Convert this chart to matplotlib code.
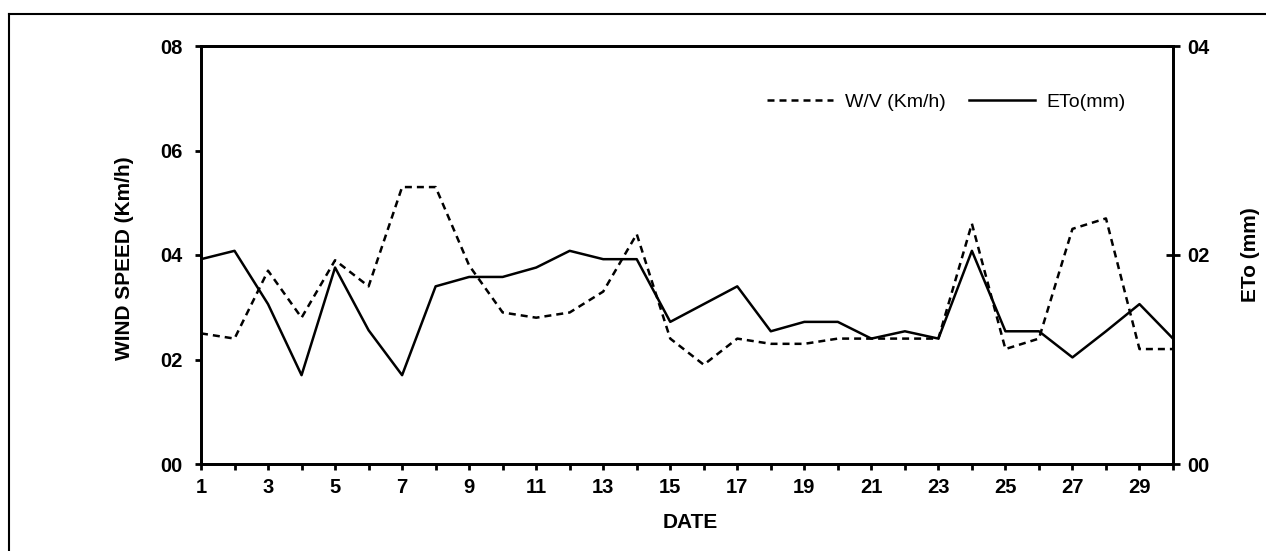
import matplotlib
matplotlib.use("Agg")
import matplotlib.pyplot as plt
from matplotlib.lines import Line2D

plt.rcParams['font.family'] = ['Liberation Sans', 'DejaVu Sans']

days = list(range(1, 31))
wind_speed = [2.5, 2.4, 3.7, 2.8, 3.9, 3.4, 5.3, 5.3, 3.8, 2.9,
              2.8, 2.9, 3.3, 4.4, 2.4, 1.9, 2.4, 2.3, 2.3, 2.4,
              2.4, 2.4, 2.4, 4.6, 2.2, 2.4, 4.5, 4.7, 2.2, 2.2]
eto = [1.96, 2.04, 1.53, 0.85, 1.88, 1.28, 0.85, 1.70, 1.79, 1.79,
       1.88, 2.04, 1.96, 1.96, 1.36, 1.53, 1.70, 1.27, 1.36, 1.36,
       1.20, 1.27, 1.20, 2.04, 1.27, 1.27, 1.02, 1.27, 1.53, 1.20]
left_ticks = [0, 2, 4, 6, 8]
left_ticklabels = ["00", "02", "04", "06", "08"]
right_ticks = [0, 2, 4]
right_ticklabels = ["00", "02", "04"]
x_ticklabels = [str(d) if d % 2 == 1 else "" for d in days]

W, H = 1266, 551
fig = plt.figure(figsize=(W / 100, H / 100), dpi=100)

# outer frame (only top and left edges visible)
fig.add_artist(Line2D([9 / W, 9 / W], [0, 1 - 14 / H], transform=fig.transFigure,
                      color='black', lw=1.5))
fig.add_artist(Line2D([9 / W, 1], [1 - 14 / H, 1 - 14 / H], transform=fig.transFigure,
                      color='black', lw=1.5))

ax = fig.add_axes([201 / W, 1 - 464 / H, (1173 - 201) / W, (464 - 46) / H])
ax2 = ax.twinx()

l1, = ax.plot(days, wind_speed, color='black', lw=1.8, linestyle=(0, (2.8, 2.0)),
              label='W/V (Km/h)')
l2, = ax2.plot(days, eto, color='black', lw=1.8, label='ETo(mm)')

ax.set_xlim(1, 30)
ax.set_ylim(0, 8)
ax2.set_ylim(0, 4)

ax.set_xticks(days)
ax.set_xticklabels(x_ticklabels)
ax.set_yticks(left_ticks)
ax.set_yticklabels(left_ticklabels)
ax2.set_yticks(right_ticks)
ax2.set_yticklabels(right_ticklabels)

for a in (ax, ax2):
    for s in a.spines.values():
        s.set_linewidth(2.0)

ax.tick_params(axis='x', direction='out', length=4.5, width=2.0, pad=5.5,
               labelsize=14.5)
ax.tick_params(axis='y', direction='out', length=4.5, width=2.0, pad=8.5,
               labelsize=14.5)
ax2.tick_params(axis='y', direction='inout', length=10, width=2.0, pad=5,
                labelsize=14.5)
for lab in ax.get_xticklabels() + ax.get_yticklabels() + ax2.get_yticklabels():
    lab.set_fontweight('bold')

fig.text(124 / W, 1 - 258 / H, 'WIND SPEED (Km/h)', rotation=90, ha='center',
         va='center', fontsize=15, fontweight='bold')
fig.text(1250 / W, 1 - 255 / H, 'ETo (mm)', rotation=90, ha='center',
         va='center', fontsize=15, fontweight='bold')
fig.text(690 / W, 1 - 522 / H, 'DATE', ha='center', va='center',
         fontsize=15, fontweight='bold')

fig.legend(handles=[l1, l2], loc='center left',
           bbox_to_anchor=(767 / W, 1 - 102 / H), ncol=2, frameon=False,
           fontsize=14, handlelength=3.4, handletextpad=0.6,
           columnspacing=1.2, borderpad=0, borderaxespad=0)

fig.savefig('out.png', dpi=100)
